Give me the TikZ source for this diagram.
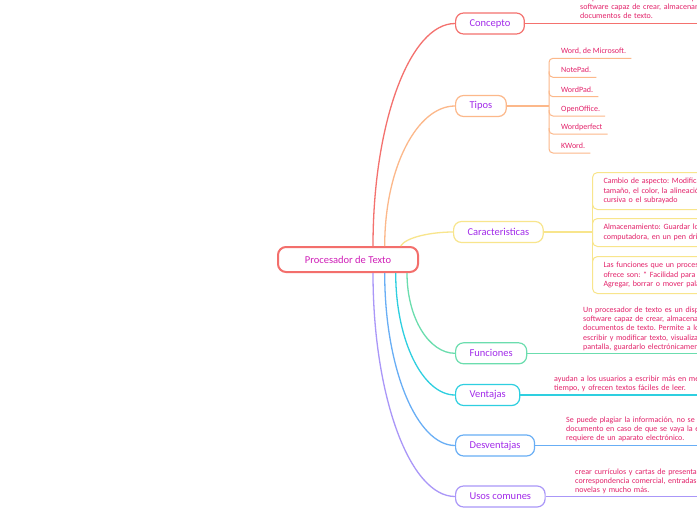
\documentclass[tikz,border=0pt]{standalone}
\usepackage{fontspec}
\setmainfont{Carlito}
\frenchspacing
\usetikzlibrary{positioning, calc}
\definecolor{rootred}{HTML}{F36F6C}
\definecolor{cConcepto}{HTML}{F4716E}
\definecolor{cTipos}{HTML}{FCB88A}
\definecolor{cCar}{HTML}{F8E58C}
\definecolor{cFun}{HTML}{6BDDAE}
\definecolor{cVen}{HTML}{2ECFE0}
\definecolor{cDes}{HTML}{68AEF5}
\definecolor{cUso}{HTML}{AA97F8}
\definecolor{rootink}{HTML}{D01FB8}
\definecolor{branchink}{HTML}{A22BEA}
\definecolor{leafink}{HTML}{E3226A}

\begin{document}
\begin{tikzpicture}[
	x=1pt, y=-1pt,
	central/.style={
		draw=rootred, line width=2pt, fill=white, rounded corners=8pt,
		minimum width=140pt, minimum height=25pt,
		font=\fontsize{10.5}{12}\selectfont, text=rootink
	},
	branch/.style={
		draw=#1, line width=1.2pt, fill=white, rounded corners=8pt,
		anchor=west, minimum height=21pt, inner xsep=14pt,
		font=\fontsize{10.5}{12}\selectfont, text=branchink
	},
	link/.style={draw=#1, line width=1.3pt},
	twig/.style={draw=#1, line width=1pt, rounded corners=4pt},
	leaftext/.style={
		anchor=base west, inner sep=0pt, text width=300pt, align=left,
		font=\fontsize{8}{9.3}\selectfont, text=leafink
	},
	tipoitem/.style={
		anchor=south west, inner sep=0pt, text depth=4.5pt,
		font=\fontsize{8}{9.3}\selectfont, text=leafink
	},
	featbox/.style={
		draw=cCar, line width=1pt, rounded corners=5pt, anchor=north west,
		text width=280pt, inner xsep=11pt, inner ysep=4.5pt, align=left,
		font=\fontsize{8}{9.3}\selectfont, text=leafink
	}
	]
	
	% canvas
	\fill[white] (0,0) rectangle (697,520);
	\useasboundingbox (0,0) rectangle (697,520);
	\coordinate (rim) at (705,0);
	
	% Central topic
	\node[central] (root) at (348,259.5) {Procesador de Texto};
	
	% Main branches
	\node[branch=cConcepto] (concepto) at (455,23.5) {Concepto};
	\node[branch=cTipos] (tipos) at (455,106) {Tipos};
	\node[branch=cCar] (caract) at (453,232) {Caracteristicas};
	\node[branch=cFun] (funciones) at (455,353.3) {Funciones};
	\node[branch=cVen] (ventajas) at (455,395) {Ventajas};
	\node[branch=cDes] (desventajas) at (455,445.5) {Desventajas};
	\node[branch=cUso] (usos) at (455,496.5) {Usos comunes};
	
	% --- Curves from the central topic ---
	\draw[link=cConcepto] ([xshift=96pt]root.north west) to[out=90, in=180, out distance=124pt, in distance=45pt] (concepto.west);
	\draw[link=cTipos] ([xshift=107.7pt]root.north west) to[out=90, in=180, out distance=78pt, in distance=38pt] (tipos.west);
	\draw[link=cCar] ([xshift=123.7pt]root.north west) to[out=60, in=180, out distance=10pt, in distance=22pt] (caract.west);
	\draw[link=cFun] ([xshift=130pt]root.south west) to[out=-90, in=180, out distance=45pt, in distance=26pt] (funciones.west);
	\draw[link=cVen] ([xshift=118.7pt]root.south west) to[out=-90, in=180, out distance=68pt, in distance=32pt] (ventajas.west);
	\draw[link=cDes] ([xshift=107.7pt]root.south west) to[out=-90, in=180, out distance=96pt, in distance=38pt] (desventajas.west);
	\draw[link=cUso] ([xshift=96pt]root.south west) to[out=-90, in=180, out distance=124pt, in distance=45pt] (usos.west);
	
	% --- Concepto ---
	\draw[link=cConcepto] (concepto.east) -- (concepto.east -| rim);
	\node[leaftext] (conceptotxt) at (580,0) {Un procesador de texto es un dispositivo o un\\ software capaz de crear, almacenar e imprimir\\ documentos de texto.};
	
	% --- Tipos ---
	\coordinate (tspine) at (549,106);
	\draw[link=cTipos] (tipos.east) -- (tspine);
	\node[tipoitem] (word) at (561,58.3) {Word, de Microsoft.};
	\node[tipoitem] (notepad) at (561,77.3) {NotePad.};
	\node[tipoitem] (wordpad) at (561,96.7) {WordPad.};
	\node[tipoitem] (openoffice) at (561,116) {OpenOffice.};
	\node[tipoitem] (wordperfect) at (561,134) {Wordperfect};
	\node[tipoitem] (kword) at (561,153) {KWord.};
	\draw[twig=cTipos] ([xshift=5pt]word.south east) -- (word.south -| tspine) -- (kword.south -| tspine) -- ([xshift=5pt]kword.south east);
	\draw[twig=cTipos] ([yshift=6pt]notepad.south -| tspine) -- (notepad.south -| tspine) -- ([xshift=5pt]notepad.south east);
	\draw[twig=cTipos] ([yshift=6pt]wordpad.south -| tspine) -- (wordpad.south -| tspine) -- ([xshift=5pt]wordpad.south east);
	\draw[twig=cTipos] ([yshift=6pt]openoffice.south -| tspine) -- (openoffice.south -| tspine) -- ([xshift=5pt]openoffice.south east);
	\draw[twig=cTipos] ([yshift=6pt]wordperfect.south -| tspine) -- (wordperfect.south -| tspine) -- ([xshift=5pt]wordperfect.south east);
	
	% --- Caracteristicas ---
	\coordinate (cspine) at (592,232);
	\draw[link=cCar] (caract.east) -- (cspine);
	\node[featbox, minimum height=37pt] (cambio) at (592,172) {Cambio de aspecto: Modificar el tipo de letra, el\\ tamaño, el color, la alineación, la negrita, la\\ cursiva o el subrayado};
	\node[featbox, minimum height=28pt] (almacen) at (592,218) {Almacenamiento: Guardar los documentos en la\\ computadora, en un pen drive o en la nube};
	\node[featbox, minimum height=37pt] (funcs) at (592,256) {Las funciones que un procesador de texto nos\\ ofrece son: * Facilidad para escribir textos.\\ Agregar, borrar o mover palabras};
	\draw[twig=cCar] ([yshift=5pt]cambio.south west) -- ([yshift=-5pt]almacen.north west);
	\draw[twig=cCar] ([yshift=5pt]almacen.south west) -- ([yshift=-5pt]funcs.north west);
	
	% --- Funciones ---
	\draw[link=cFun] (funciones.east) -- (funciones.east -| rim);
	\node[leaftext] (funcionestxt) at (583,312.3) {Un procesador de texto es un dispositivo o un\\ software capaz de crear, almacenar e imprimir\\ documentos de texto. Permite a los usuarios\\ escribir y modificar texto, visualizarlo en\\ pantalla, guardarlo electrónicamente};
	
	% --- Ventajas ---
	\draw[link=cVen] (ventajas.east) -- (ventajas.east -| rim);
	\node[leaftext] (ventajastxt) at (554,381.3) {ayudan a los usuarios a escribir más en menos\\ tiempo, y ofrecen textos fáciles de leer.};
	
	% --- Desventajas ---
	\draw[link=cDes] (desventajas.east) -- (desventajas.east -| rim);
	\node[leaftext] (desventajastxt) at (566,422.3) {Se puede plagiar la información, no se puede abrir el\\ documento en caso de que se vaya la energía,\\ requiere de un aparato electrónico.};
	
	% --- Usos comunes ---
	\draw[link=cUso] (usos.east) -- (usos.east -| rim);
	\node[leaftext] (usostxt) at (575,474) {crear currículos y cartas de presentación,\\ correspondencia comercial, entradas de blog,\\ novelas y mucho más.};
\end{tikzpicture}
\end{document}
